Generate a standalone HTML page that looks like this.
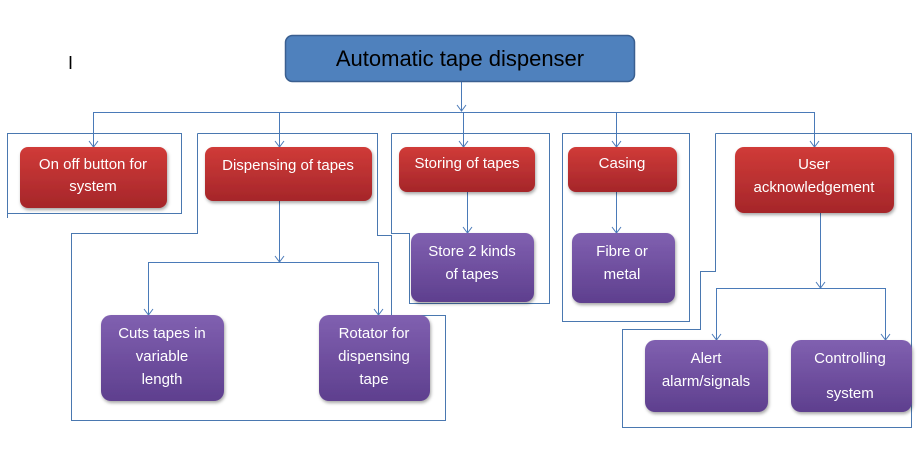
<!DOCTYPE html>
<html><head><meta charset="utf-8"><style>
body{margin:0;background:#fff;}
svg text{font-family:"Liberation Sans",sans-serif;}
</style></head><body>
<svg width="917" height="459" viewBox="0 0 917 459" xmlns="http://www.w3.org/2000/svg">
<defs>
<linearGradient id="r" x1="0" y1="0" x2="0" y2="1"><stop offset="0" stop-color="#d03b38"/><stop offset="1" stop-color="#a5262a"/></linearGradient>
<linearGradient id="p" x1="0" y1="0" x2="0" y2="1"><stop offset="0" stop-color="#8060b0"/><stop offset="1" stop-color="#5e3f8e"/></linearGradient>
<marker id="a" markerWidth="10" markerHeight="12" refX="7" refY="5" orient="auto" markerUnits="userSpaceOnUse"><path d="M1,0.5 L7,5 L1,9.5" fill="none" stroke="#4a7ab8" stroke-width="1"/></marker>
<filter id="s"><feDropShadow dx="1" dy="2" stdDeviation="1.5" flood-color="#000" flood-opacity="0.35"/></filter>
</defs>
<g fill="none" stroke="#4a78b0" stroke-width="1">
<rect x="7.5" y="133.5" width="174" height="80"/>
<line x1="7.5" y1="133" x2="7.5" y2="218"/>
<polyline points="197.5,133.5 377.5,133.5 377.5,235.5 391.5,235.5 391.5,315.5 445.5,315.5 445.5,420.5 71.5,420.5 71.5,233.5 197.5,233.5 197.5,133.5"/>
<polyline points="391.5,133.5 549.5,133.5 549.5,303.5 409.5,303.5 409.5,233.5 391.5,233.5 391.5,133.5"/>
<rect x="562.5" y="133.5" width="127" height="188"/>
<polyline points="715.5,133.5 911.5,133.5 911.5,427.5 622.5,427.5 622.5,329.5 700.5,329.5 700.5,271.5 715.5,271.5 715.5,133.5"/>
</g>
<g fill="none" stroke="#4a7ab8" stroke-width="1">
<line x1="461.5" y1="81" x2="461.5" y2="111" marker-end="url(#a)"/>
<line x1="93.5" y1="112.5" x2="814.5" y2="112.5"/>
<line x1="93.5" y1="112" x2="93.5" y2="147" marker-end="url(#a)"/>
<line x1="279.5" y1="112" x2="279.5" y2="147" marker-end="url(#a)"/>
<line x1="463.5" y1="112" x2="463.5" y2="147" marker-end="url(#a)"/>
<line x1="616.5" y1="112" x2="616.5" y2="147" marker-end="url(#a)"/>
<line x1="814.5" y1="112" x2="814.5" y2="147" marker-end="url(#a)"/>
<line x1="467.5" y1="192" x2="467.5" y2="233" marker-end="url(#a)"/>
<line x1="616.5" y1="192" x2="616.5" y2="233" marker-end="url(#a)"/>
<line x1="279.5" y1="201" x2="279.5" y2="262" marker-end="url(#a)"/>
<line x1="148.5" y1="262.5" x2="378.5" y2="262.5"/>
<line x1="148.5" y1="262" x2="148.5" y2="315" marker-end="url(#a)"/>
<line x1="378.5" y1="262" x2="378.5" y2="315" marker-end="url(#a)"/>
<line x1="820.5" y1="213" x2="820.5" y2="288" marker-end="url(#a)"/>
<line x1="716.5" y1="288.5" x2="885.5" y2="288.5"/>
<line x1="716.5" y1="288" x2="716.5" y2="340" marker-end="url(#a)"/>
<line x1="885.5" y1="288" x2="885.5" y2="340" marker-end="url(#a)"/>
</g>
<rect x="285.5" y="35.5" width="349" height="46" rx="7" fill="#4f81bd" stroke="#3a5f90" stroke-width="1.5"/>
<text x="460" y="66" font-size="22" text-anchor="middle" fill="#000">Automatic tape dispenser</text>
<text x="68" y="69" font-size="18" fill="#000">I</text>
<g filter="url(#s)">
<rect x="20" y="147" width="147" height="61" rx="8" fill="url(#r)"/>
<rect x="205" y="147" width="167" height="54" rx="8" fill="url(#r)"/>
<rect x="399" y="147" width="136" height="45" rx="8" fill="url(#r)"/>
<rect x="568" y="147" width="109" height="45" rx="8" fill="url(#r)"/>
<rect x="735" y="147" width="159" height="66" rx="9" fill="url(#r)"/>
<rect x="411" y="233" width="123" height="69" rx="9" fill="url(#p)"/>
<rect x="572" y="233" width="103" height="70" rx="9" fill="url(#p)"/>
<rect x="101" y="315" width="123" height="86" rx="10" fill="url(#p)"/>
<rect x="319" y="315" width="111" height="86" rx="10" fill="url(#p)"/>
<rect x="645" y="340" width="123" height="72" rx="10" fill="url(#p)"/>
<rect x="791" y="340" width="121" height="72" rx="10" fill="url(#p)"/>
</g>
<g fill="#fff" font-size="15" text-anchor="middle">
<text x="93" y="169">On off button for</text><text x="93" y="191">system</text>
<text x="288" y="170">Dispensing of tapes</text>
<text x="467" y="168">Storing of tapes</text>
<text x="622" y="168">Casing</text>
<text x="814" y="169">User</text><text x="814" y="192">acknowledgement</text>
<text x="472" y="256">Store 2 kinds</text><text x="472" y="279">of tapes</text>
<text x="622" y="256">Fibre or</text><text x="622" y="279">metal</text>
<text x="162" y="338">Cuts tapes in</text><text x="162" y="361">variable</text><text x="162" y="384">length</text>
<text x="374" y="338">Rotator for</text><text x="374" y="361">dispensing</text><text x="374" y="384">tape</text>
<text x="706" y="363">Alert</text><text x="706" y="386">alarm/signals</text>
<text x="850" y="363">Controlling</text><text x="850" y="398">system</text>
</g>
</svg>
</body></html>
